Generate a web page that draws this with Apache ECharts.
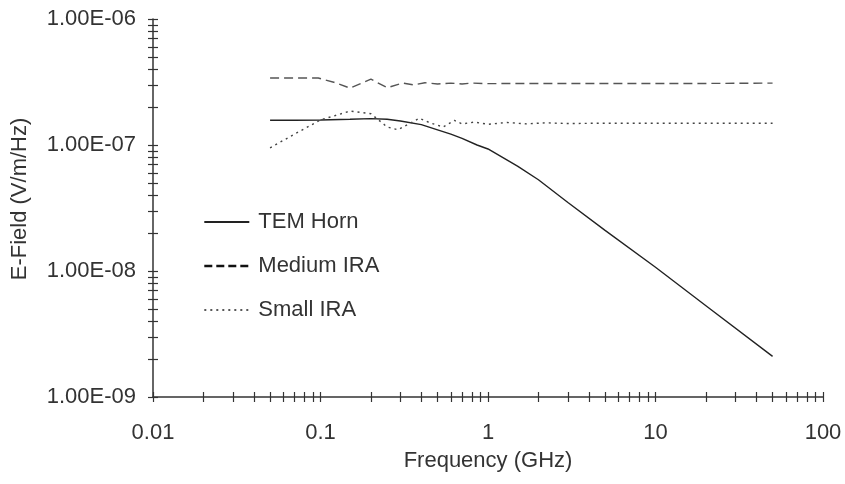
<!DOCTYPE html>
<html>
<head>
<meta charset="utf-8">
<script src="https://cdn.jsdelivr.net/npm/echarts@6/dist/echarts.min.js"></script>
<style>
  html, body { margin: 0; padding: 0; background: #fff; }
  #chart { width: 845px; height: 484px; }
</style>
</head>
<body>
<div id="chart"></div>
<script>
// frequencies in GHz, fields in V/m/Hz
var temFreq = [0.05, 0.07, 0.1, 0.15, 0.2, 0.25, 0.3, 0.4, 0.5, 0.6, 0.7, 0.86, 1, 1.5, 2, 3, 5, 10, 20, 50];
var temField = [1.57e-7, 1.57e-7, 1.58e-7, 1.6e-7, 1.62e-7, 1.6e-7, 1.55e-7, 1.45e-7, 1.32e-7, 1.22e-7, 1.13e-7, 1.0e-7, 9.3e-8, 6.8e-8, 5.3e-8, 3.5e-8, 2.1e-8, 1.07e-8, 5.3e-9, 2.1e-9];

var medFreq = [0.05, 0.07, 0.097, 0.12, 0.15, 0.2, 0.25, 0.31, 0.36, 0.42, 0.5, 0.6, 0.7, 0.8, 1, 2, 5, 10, 20, 50];
var medField = [3.4e-7, 3.4e-7, 3.4e-7, 3.15e-7, 2.83e-7, 3.33e-7, 2.85e-7, 3.1e-7, 3.0e-7, 3.12e-7, 3.05e-7, 3.1e-7, 3.05e-7, 3.1e-7, 3.07e-7, 3.08e-7, 3.08e-7, 3.08e-7, 3.08e-7, 3.1e-7];

var smallFreq = [0.05, 0.07, 0.1, 0.15, 0.2, 0.25, 0.29, 0.33, 0.39, 0.45, 0.54, 0.63, 0.7, 0.83, 1, 1.3, 1.7, 2.2, 3, 5, 10, 20, 50];
var smallField = [9.5e-8, 1.22e-7, 1.58e-7, 1.86e-7, 1.77e-7, 1.39e-7, 1.32e-7, 1.45e-7, 1.63e-7, 1.5e-7, 1.39e-7, 1.57e-7, 1.47e-7, 1.52e-7, 1.46e-7, 1.51e-7, 1.47e-7, 1.5e-7, 1.48e-7, 1.49e-7, 1.49e-7, 1.49e-7, 1.49e-7];

var xTicks = [0.01, 0.1, 1, 10, 100];
var yTicks = [1e-9, 1e-8, 1e-7, 1e-6];

function pairs(xs, ys) {
  return xs.map(function (x, i) { return [x, ys[i]]; });
}
// 1..9 x 10^k between the decade ticks
function logMinor(decades) {
  var out = [];
  for (var i = 0; i < decades.length - 1; i++) {
    for (var m = 1; m < 10; m++) out.push(+(decades[i] * m).toPrecision(3));
  }
  out.push(decades[decades.length - 1]);
  return out;
}
function sci(v) {
  var e = Math.round(Math.log10(v));
  var m = v / Math.pow(10, e);
  var s = e < 0 ? '-' : '+';
  var a = Math.abs(e);
  return m.toFixed(2) + 'E' + s + (a < 10 ? '0' + a : a);
}

var font = 'Liberation Sans, Arial, sans-serif';
var ink = '#333';
var fs = 22;

var myChart = echarts.init(document.getElementById('chart'));

function baseX(inside) {
  return {
    type: 'log', logBase: 10, min: 0.01, max: 100,
    position: 'bottom',
    axisLine: { show: !inside, lineStyle: { color: ink, width: 1.5 } },
    axisTick: { show: true, inside: inside, length: 5, customValues: logMinor(xTicks), lineStyle: { color: ink, width: 1.2 } },
    axisLabel: {
      show: !inside, customValues: xTicks, margin: 25, color: ink, fontFamily: font, fontSize: fs,
      formatter: function (v) { return String(+v.toPrecision(3)); }
    },
    splitLine: { show: false }
  };
}
function baseY(inside) {
  return {
    type: 'log', logBase: 10, min: 1e-9, max: 1e-6,
    position: 'left',
    axisLine: { show: !inside, lineStyle: { color: ink, width: 1.5 } },
    axisTick: { show: true, inside: inside, length: 5, customValues: logMinor(yTicks), lineStyle: { color: ink, width: 1.2 } },
    axisLabel: {
      show: !inside, customValues: yTicks, margin: 17, color: ink, fontFamily: font, fontSize: fs,
      formatter: function (v) { return sci(v); }
    },
    splitLine: { show: false }
  };
}

var x0 = baseX(false);
x0.name = 'Frequency (GHz)';
x0.nameLocation = 'middle';
x0.nameGap = 53;
x0.nameTextStyle = { color: ink, fontFamily: font, fontSize: fs };
var y0 = baseY(false);
y0.name = 'E-Field (V/m/Hz)';
y0.nameLocation = 'middle';
y0.nameGap = 122;
y0.nameTextStyle = { color: ink, fontFamily: font, fontSize: fs, padding: [0, 0, 0, 18] };

var option = {
  backgroundColor: '#fff',
  animation: false,
  grid: { left: 153, right: 22, top: 19, bottom: 87, outerBoundsMode: 'none', containLabel: false },
  legend: {
    orient: 'vertical',
    left: 203, top: 211, padding: 0,
    itemWidth: 45, itemHeight: 20, itemGap: 22,
    itemStyle: { opacity: 0 },
    textStyle: { color: ink, fontFamily: font, fontSize: fs, padding: [0, 0, 0, 4] },
    data: [
      { name: 'TEM Horn' },
      { name: 'Medium IRA', lineStyle: { width: 2.6, color: '#111', type: [8, 4] } },
      { name: 'Small IRA', lineStyle: { width: 1.5, color: '#222', type: [2, 4] } }
    ]
  },
  xAxis: [x0, baseX(true)],
  yAxis: [y0, baseY(true)],
  series: [
    {
      name: 'TEM Horn', type: 'line', showSymbol: false, symbol: 'none',
      data: pairs(temFreq, temField),
      lineStyle: { color: '#222', width: 1.4, type: 'solid' },
      itemStyle: { color: '#222' }
    },
    {
      name: 'Medium IRA', type: 'line', showSymbol: false, symbol: 'none',
      data: pairs(medFreq, medField),
      lineStyle: { color: '#555', width: 1.4, type: [9, 5] },
      itemStyle: { color: '#555' }
    },
    {
      name: 'Small IRA', type: 'line', showSymbol: false, symbol: 'none',
      data: pairs(smallFreq, smallField),
      lineStyle: { color: '#444', width: 1.4, type: [2, 4] },
      itemStyle: { color: '#444' }
    }
  ]
};
myChart.setOption(option);
</script>
</body>
</html>
